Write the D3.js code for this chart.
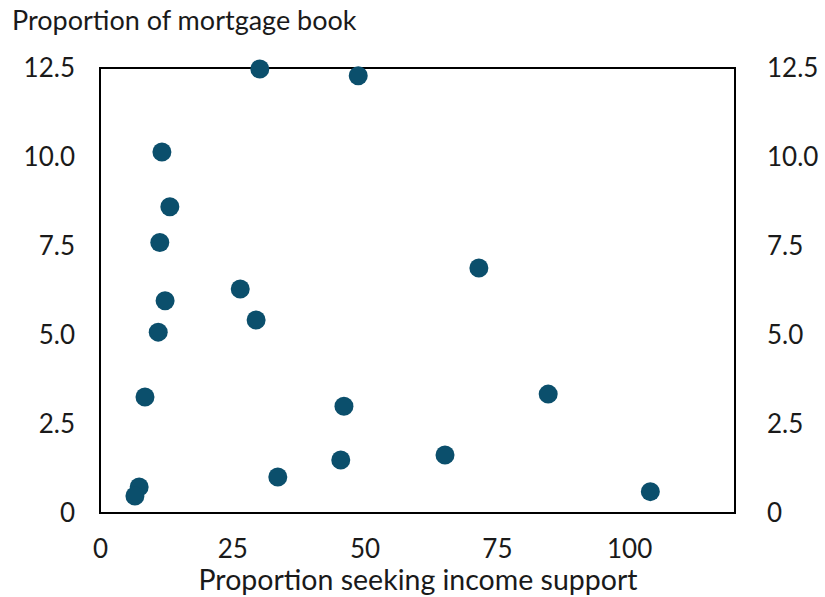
<!DOCTYPE html>
<html>
<head>
<meta charset="utf-8">
<script src="https://cdn.jsdelivr.net/npm/d3@7"></script>
<style>
  body { margin: 0; background: #fff; }
  svg text { font-family: Lato, "Open Sans", sans-serif; fill: #1a1a1a; }
</style>
</head>
<body>
<svg id="chart"></svg>
<script>
const CONF = {
    width: 825,
    height: 597,
    left: 100,
    right: 735,
    top: 68,
    bottom: 513,
    dotColor: "#0b4f6c",
}

// values
const incomeSupport = [30.2, 48.8, 11.7, 13.2, 11.3, 71.6, 26.5, 12.3, 29.5, 11.0,
    8.5, 84.7, 46.1, 65.2, 45.5, 33.6, 7.4, 6.6, 104.0]
const mortgageShare = [12.47, 12.28, 10.14, 8.6, 7.6, 6.88, 6.29, 5.96, 5.42, 5.08,
    3.26, 3.34, 3.0, 1.63, 1.49, 1.01, 0.73, 0.48, 0.6]

const xTicks = [0, 25, 50, 75, 100]
const yTicks = [0, 2.5, 5, 7.5, 10, 12.5]

const yTickFmt = d => d === 0 ? "0" : d3.format(".1f")(d)

let svg = d3.select("svg#chart").attr("width", CONF.width).attr("height", CONF.height)

let x = d3.scaleLinear().domain([0, 120]).range([CONF.left, CONF.right])
let y = d3.scaleLinear().domain([0, 12.5]).range([CONF.bottom, CONF.top])

// axes, no tick lines, no domain path
let xAxis = svg.append("g")
    .attr("transform", `translate(0,${CONF.bottom})`)
    .call(d3.axisBottom(x).tickValues(xTicks).tickSize(0).tickPadding(27))
let yLeft = svg.append("g")
    .attr("transform", `translate(${CONF.left},0)`)
    .call(d3.axisLeft(y).tickValues(yTicks).tickFormat(yTickFmt).tickSize(0).tickPadding(25))
let yRight = svg.append("g")
    .attr("transform", `translate(${CONF.right},0)`)
    .call(d3.axisRight(y).tickValues(yTicks).tickFormat(yTickFmt).tickSize(0).tickPadding(32))

for (let ax of [xAxis, yLeft, yRight]) {
    ax.select(".domain").remove()
    ax.selectAll("text").style("font-size", "26px").attr("fill", "#1a1a1a")
        .style("font-family", "Lato, sans-serif")
}

// plot frame
svg.append("rect")
    .attr("x", CONF.left).attr("y", CONF.top)
    .attr("width", CONF.right - CONF.left).attr("height", CONF.bottom - CONF.top)
    .attr("fill", "none")
    .attr("stroke", "#000")
    .attr("stroke-width", 2)

svg.selectAll()
    .data(incomeSupport.map((v, i) => [v, mortgageShare[i]]))
    .enter()
    .append("circle")
    .attr("cx", d => x(d[0]))
    .attr("cy", d => y(d[1]))
    .attr("r", 9.5)
    .attr("fill", CONF.dotColor)

svg.append("text")
    .attr("x", 12).attr("y", 30)
    .style("font-size", "27px")
    .text("Proportion of mortgage book")

svg.append("text")
    .attr("x", 418).attr("y", 590)
    .attr("text-anchor", "middle")
    .style("font-size", "28.5px")
    .text("Proportion seeking income support")
</script>
</body>
</html>
